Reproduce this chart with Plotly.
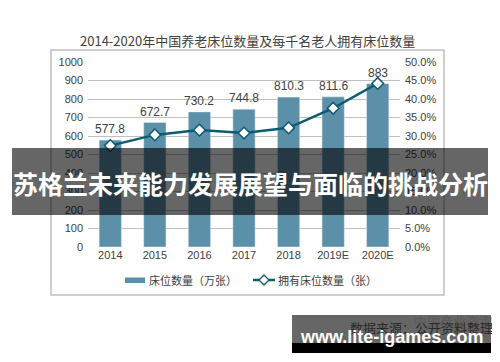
import plotly.graph_objects as go

years = ["2014", "2015", "2016", "2017", "2018", "2019E", "2020E"]
beds = [577.8, 672.7, 730.2, 744.8, 810.3, 811.6, 883]
per_thousand = [0.274, 0.303, 0.316, 0.308, 0.322, 0.375, 0.442]
bar_labels = ["577.8", "672.7", "730.2", "744.8", "810.3", "811.6", "883"]

title_text = "2014-2020年中国养老床位数量及每千名老人拥有床位数量"
bar_name = "床位数量（万张）"
line_name = "拥有床位数量（张）"
banner_text = "苏格兰未来能力发展展望与面临的挑战分析"
source_text = "数据来源：公开资料整理"
wm_text = "中国产业咨询"
site_text = "www.lite-igames.com"

BAR = "#5b90a8"
LINE = "#0d5a72"
TXT = "#404040"
FONT = "Liberation Sans, Noto Sans CJK SC, sans-serif"
CJK = "Noto Sans CJK SC, sans-serif"

# page body has an 8px margin: work in target-screen pixels, shift by OFF
OFF = 8
FW, FH = 500 - OFF, 362 - OFF
W0, W1 = 88 - OFF, 400 - OFF
H0, H1 = 62 - OFF, 247 - OFF
pw, ph = W1 - W0, H1 - H0
def px(x):
    return (x - OFF - W0) / pw
def py(y):
    return (H1 - (y - OFF)) / ph

fig = go.Figure()
fig.add_trace(go.Bar(
    x=years, y=beds, name=bar_name, marker_color=BAR, width=0.5, showlegend=False,
))
fig.add_trace(go.Scatter(
    x=years, y=per_thousand, name=line_name, yaxis="y2", mode="lines+markers",
    line=dict(color=LINE, width=2.5),
    marker=dict(symbol="diamond", size=9, color="white", line=dict(color=LINE, width=1.5)),
    cliponaxis=False, showlegend=False,
))

# diamond legend marker as a path (pixel-accurate)
dx, dy = 5 / pw, 5 / ph
cx, cy = px(264), py(280)
diamond = f"M {cx},{cy+dy} L {cx+dx},{cy} L {cx},{cy-dy} L {cx-dx},{cy} Z"

shapes = [
    dict(type="rect", xref="paper", yref="paper", x0=px(51), x1=px(444), y0=py(295), y1=py(50),
         line=dict(color="#bfbfbf", width=1.5), fillcolor="rgba(0,0,0,0)", layer="below"),
    # legend
    dict(type="rect", xref="paper", yref="paper", x0=px(125), x1=px(145), y0=py(283), y1=py(277.5),
         line=dict(width=0), fillcolor=BAR),
    dict(type="line", xref="paper", yref="paper", x0=px(253), x1=px(275), y0=py(280), y1=py(280),
         line=dict(color=LINE, width=2.5)),
    dict(type="path", xref="paper", yref="paper", path=diamond,
         line=dict(color=LINE, width=1.3), fillcolor="white"),
    # overlays
    dict(type="rect", xref="paper", yref="paper", x0=px(12), x1=px(488), y0=py(215), y1=py(148),
         line=dict(width=0), fillcolor="rgba(0,0,0,0.6)", layer="above"),
    dict(type="rect", xref="paper", yref="paper", x0=px(292), x1=px(491), y0=py(343), y1=py(315),
         line=dict(width=0), fillcolor="rgba(0,0,0,0.6)", layer="above"),
    dict(type="rect", xref="paper", yref="paper", x0=px(292), x1=px(491), y0=py(353), y1=py(343),
         line=dict(width=0), fillcolor="rgba(0,0,0,1)", layer="above"),
]

annotations = [
    dict(text=lab, x=i, y=v, xref="x", yref="y", showarrow=False, yshift=11,
         font=dict(size=12, color=TXT, family=FONT), xanchor="center", yanchor="middle")
    for i, (v, lab) in enumerate(zip(beds, bar_labels))
]
annotations += [
    dict(text=title_text, xref="paper", yref="paper", x=px(247), y=py(40), showarrow=False,
         font=dict(size=13, color=TXT, family=CJK), xanchor="center", yanchor="middle"),
    dict(text=bar_name, xref="paper", yref="paper", x=px(147), y=py(280), showarrow=False,
         font=dict(size=11, color=TXT, family=CJK), xanchor="left", yanchor="middle"),
    dict(text=line_name, xref="paper", yref="paper", x=px(276), y=py(280), showarrow=False,
         font=dict(size=11, color=TXT, family=CJK), xanchor="left", yanchor="middle"),
    dict(text="<b>" + banner_text + "</b>", xref="paper", yref="paper", x=px(250), y=py(183),
         showarrow=False, font=dict(size=25, color="white", family=CJK),
         xanchor="center", yanchor="middle"),
    dict(text=wm_text, xref="paper", yref="paper", x=px(412), y=py(320), showarrow=False,
         font=dict(size=13, color="#5a5a5a", family=CJK), xanchor="left", yanchor="middle"),
    dict(text=source_text, xref="paper", yref="paper", x=px(348), y=py(327), showarrow=False,
         font=dict(size=13, color="#2a2a2a", family=CJK), xanchor="left", yanchor="middle"),
    dict(text="<b>" + site_text + "</b>", xref="paper", yref="paper", x=px(391), y=py(337),
         showarrow=False, font=dict(size=18, color="white", family=FONT),
         xanchor="center", yanchor="middle"),
]

fig.update_layout(
    width=FW, height=FH, autosize=False,
    margin=dict(l=W0, r=FW - W1, t=H0, b=FH - H1, autoexpand=False),
    paper_bgcolor="white", plot_bgcolor="white",
    font=dict(family=FONT, size=11, color=TXT),
    showlegend=False,
    bargap=0.5,
    xaxis=dict(type="category", showgrid=False, showline=False, ticks="",
               tickfont=dict(size=11, color=TXT), range=[-0.5, 6.5]),
    yaxis=dict(range=[0, 1000], dtick=100, showgrid=True, gridcolor="#bfbfbf", gridwidth=1,
               zeroline=False, showline=False, ticks="", tickfont=dict(size=11, color=TXT),
               ticklabelstandoff=4),
    yaxis2=dict(range=[0, 0.5], dtick=0.05, tickformat=".1%", overlaying="y", side="right",
                showgrid=False, zeroline=False, showline=False, ticks="",
                tickfont=dict(size=11, color=TXT), ticklabelstandoff=4),
    shapes=shapes, annotations=annotations,
)

fig.write_html("out.html")
